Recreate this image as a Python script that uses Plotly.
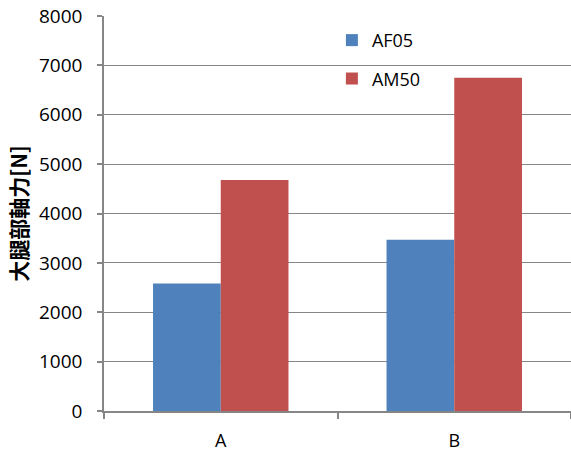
import plotly.graph_objects as go

categories = ["A", "B"]
af05 = [2580, 3470]
am50 = [4680, 6750]
y_ticks = [0, 1000, 2000, 3000, 4000, 5000, 6000, 7000, 8000]

FONT = "Open Sans, Liberation Sans, Noto Sans CJK JP, sans-serif"
AXC = "#868686"

fig = go.Figure()
fig.add_trace(go.Bar(name="AF05", x=categories, y=af05, marker=dict(color="#4F81BD", line=dict(width=0)), legendgroup="g1"))
fig.add_trace(go.Bar(name="AM50", x=categories, y=am50, marker=dict(color="#C0504D", line=dict(width=0)), legendgroup="g2"))

fig.update_layout(
    width=571, height=454,
    margin=dict(l=104, r=0, t=16, b=43),
    paper_bgcolor="white", plot_bgcolor="white",
    barmode="group", bargap=0.42, bargroupgap=0,
    font=dict(family=FONT, size=18, color="black"),
    legend=dict(x=0.488, y=0.985, xanchor="left", yanchor="top",
                bgcolor="rgba(0,0,0,0)", font=dict(size=18),
                tracegroupgap=12, traceorder="grouped"),
    xaxis=dict(type="category", showline=True, linecolor=AXC, linewidth=1.5,
               ticks="outside", tickson="boundaries", ticklen=6, tickcolor=AXC,
               tickwidth=1.5, ticklabelstandoff=13, tickfont=dict(size=18),
               showgrid=False, zeroline=False, automargin=False),
    yaxis=dict(range=[0, 8000], tickvals=y_ticks, showline=True, linecolor=AXC,
               linewidth=1.5, ticks="outside", ticklen=5, tickcolor=AXC, tickwidth=1.5,
               showgrid=True, gridcolor=AXC, gridwidth=1.2, zeroline=False,
               ticklabelstandoff=11, tickfont=dict(size=19), automargin=False,
               title=dict(text="<b>大腿部軸力[N]</b>", font=dict(size=21, family="Noto Sans CJK JP, sans-serif"), standoff=6)),
)

fig.write_html("out.html", config={"displayModeBar": False},
               post_script="document.body.style.margin='0';")
